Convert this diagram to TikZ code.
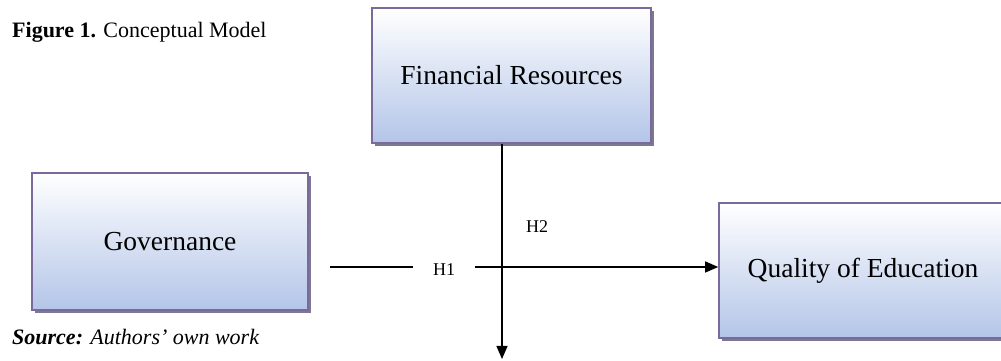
\documentclass[tikz,border=0pt]{standalone}
\usepackage{fontspec}
\setmainfont{Liberation Serif}
\usetikzlibrary{shadows,arrows.meta}

\definecolor{boxline}{HTML}{7A6A9C}
\definecolor{boxblue}{HTML}{B3C5E8}
\definecolor{shadowgrey}{HTML}{7E7791}

\tikzstyle{hyp} = [font=\fontsize{18}{20}\selectfont]
\tikzstyle{caption} = [anchor=west,inner sep=0pt,font=\fontsize{22}{26}\selectfont]
\tikzstyle{boxdecorate}=[rectangle,draw=boxline,line width=1.6pt,top color=white,bottom color=boxblue,
  drop shadow={shadow xshift=2.5pt,shadow yshift=-3pt,fill=shadowgrey,opacity=1},
  inner sep=0pt,font=\fontsize{27.5}{30}\selectfont]
\tikzstyle{arrowdecorate}=[-{Triangle[length=13pt,width=11pt]},line width=1.3pt]
\tikzstyle{edge} = [draw,line width=1.3pt,-]

\begin{document}
\begin{tikzpicture}[x=1pt,y=1pt]
  \useasboundingbox (0,0) rectangle (1001,361);
  \clip (0,0) rectangle (1001,361);
  \fill[white] (0,0) rectangle (1001,361);

  % boxes
  \foreach \nodename/\value/\x/\y/\w/\h in {
    fin/Financial Resources/511.5/285.5/279/135,
    gov/Governance/170/119.5/276/137,
    qual/Quality of Education/863/90.5/288/135}
  {
    \node[boxdecorate, minimum width=\w pt, minimum height=\h pt] (\nodename) at (\x,\y) {\value};
  }

  \node[caption] (title) at (12,329) {\textbf{Figure 1.} Conceptual Model};
  \node[caption] (source) at (12,24) {\textbf{\textit{Source:}} \textit{Authors' own work}};

  % hypotheses
  \node[hyp, inner xsep=20pt] (hone) at (444,91) {H1};
  \node[hyp] (htwo) at (537,134) {H2};
  \coordinate (hstart) at (330,94);
  \coordinate (down) at (502,2);

  %edges
  \path[edge] (hstart) -- (hone.west |- hstart);
  \draw[arrowdecorate] (hone.east |- hstart) -- (qual.west |- hstart);
  \draw[arrowdecorate] (fin.south -| down) -- (down);
\end{tikzpicture}
\end{document}
